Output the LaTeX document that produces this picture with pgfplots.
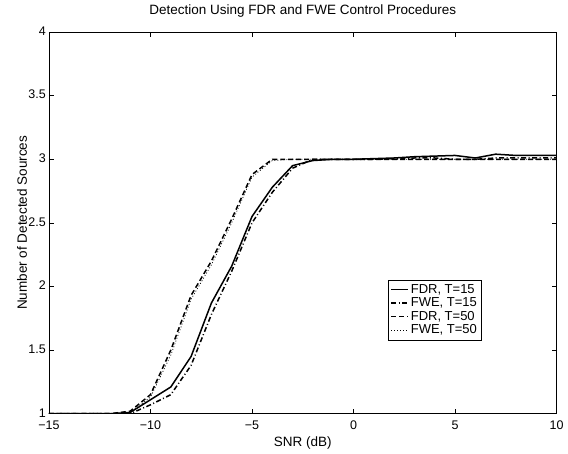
\documentclass[border=0pt]{standalone}
\usepackage{fontspec}
\setmainfont{Liberation Sans}
\usepackage{pgfplots}
\pgfplotsset{compat=1.18}

\pgfplotstableread{
snr  fdr15 fwe15 fdr50 fwe50
-15  1.00  1.00  1.00  1.00
-14  1.00  1.00  1.00  1.00
-13  1.00  1.00  1.00  1.00
-12  1.00  1.00  1.00  1.00
-11  1.01  1.00  1.02  1.01
-10  1.11  1.07  1.15  1.13
-9   1.21  1.15  1.50  1.46
-8   1.45  1.38  1.93  1.90
-7   1.87  1.78  2.20  2.17
-6   2.16  2.12  2.53  2.50
-5   2.55  2.50  2.88  2.86
-4   2.78  2.74  3.00  2.99
-3   2.95  2.93  3.00  3.00
-2   2.99  3.00  3.00  3.00
-1   3.00  3.00  3.00  3.00
0    3.00  3.00  3.00  3.00
1    3.005 3.00  3.00  3.00
2    3.01  3.005 3.00  3.00
3    3.02  3.01  3.00  3.00
4    3.025 3.01  3.00  3.00
5    3.03  3.00  3.00  3.00
6    3.01  3.00  3.00  3.00
7    3.04  3.01  3.00  3.00
8    3.03  3.01  3.00  3.00
9    3.03  3.01  3.00  3.00
10   3.03  3.01  3.00  3.00
}\detdata

\begin{document}
\fontsize{13.5}{15}\selectfont
\begin{tikzpicture}
\begin{axis}[scale only axis, width=508pt, height=382pt,
    xmin=-15, xmax=10, ymin=1, ymax=4,
    xtick={-15,-10,...,10}, xticklabels={−15,−10,−5,0,5,10},
    ytick={1,1.5,...,4}, yticklabels={1,1.5,2,2.5,3,3.5,4},
    tick pos=both, tick align=inside, major tick length=5pt,
    tick style={black, line width=0.5pt}, axis line style={line width=0.8pt},
    xlabel={SNR (dB)}, ylabel={Number of Detected Sources},
    title={Detection Using FDR and FWE Control Procedures},
    title style={at={(axis description cs:0.5,1.04)}, anchor=center},
    xlabel style={at={(axis description cs:0.5,-0.076)}, anchor=center},
    ylabel style={at={(axis description cs:-0.053,0.5)}, anchor=center},
    xticklabel style={yshift=-2pt}, yticklabel style={xshift=1.5pt, yshift=1pt},
    tick label style={font=\fontsize{12.5}{13}\selectfont},
    legend style={at={(0.668,0.193)}, anchor=south west, draw=black,
        line width=0.5pt, font=\fontsize{13}{13}\selectfont,
        row sep=-1.5pt, inner sep=2pt},
    legend cell align=left,
    every axis plot/.append style={black}]
\addplot[line width=1.5pt] table[x=snr, y=fdr15] {\detdata};
\addlegendentry{FDR, T=15}
\addplot[line width=1.5pt, dash pattern=on 5pt off 2.5pt on 1pt off 2.5pt] table[x=snr, y=fwe15] {\detdata};
\addlegendentry{FWE, T=15}
\addplot[line width=1.5pt, dash pattern=on 5pt off 3pt] table[x=snr, y=fdr50] {\detdata};
\addlegendentry{FDR, T=50}
\addplot[line width=0.7pt, dash pattern=on 1pt off 2pt] table[x=snr, y=fwe50] {\detdata};
\addlegendentry{FWE, T=50}
\end{axis}
\path ([shift={(-49pt,-34pt)}]current axis.south west)
    rectangle ([shift={(11pt,25pt)}]current axis.north east);
\end{tikzpicture}
\end{document}
